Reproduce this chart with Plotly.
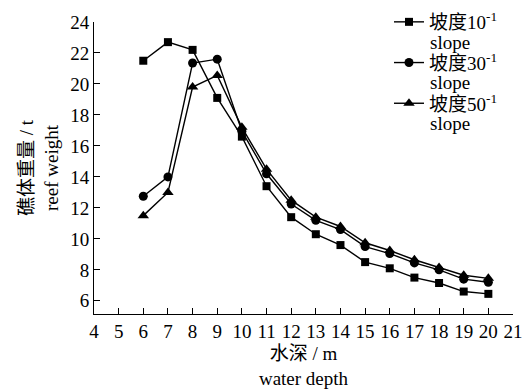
import plotly.graph_objects as go

depth = [6, 7, 8, 9, 10, 11, 12, 13, 14, 15, 16, 17, 18, 19, 20]
slope10 = [21.5, 22.7, 22.2, 19.1, 16.6, 13.4, 11.4, 10.3, 9.6, 8.5, 8.1, 7.5, 7.15, 6.6, 6.45]
slope30 = [12.75, 14.0, 21.35, 21.6, 16.95, 14.2, 12.25, 11.2, 10.6, 9.5, 9.05, 8.45, 8.0, 7.4, 7.2]
slope50 = [11.5, 13.0, 19.8, 20.55, 17.2, 14.5, 12.5, 11.4, 10.8, 9.75, 9.25, 8.65, 8.15, 7.65, 7.45]
names = ["坡度10<sup>-1</sup>", "坡度30<sup>-1</sup>", "坡度50<sup>-1</sup>"]
subnames = ["slope", "slope", "slope"]
symbols = ["square", "circle", "triangle-up"]
sizes = [8, 9, 10]
xticks = list(range(4, 22))
yticks = list(range(6, 25, 2))

FONT = "Liberation Serif, Times New Roman, Noto Sans CJK SC, serif"
FS = 19

fig = go.Figure()
for i, (ys, nm, sym, sz) in enumerate(zip([slope10, slope30, slope50], names, symbols, sizes)):
    fig.add_trace(go.Scatter(
        x=depth, y=ys, name=nm, mode="lines+markers", legendgroup=f"g{i}",
        line=dict(color="black", width=1.4),
        marker=dict(symbol=sym, size=sz, color="black"),
    ))

# second line of each legend entry
for i, s in enumerate(subnames):
    fig.add_annotation(
        xref="paper", yref="paper", x=(428 - 94) / 419, y=(314 - 43 - 40 * i) / 292,
        xanchor="left", yanchor="middle", text=s, showarrow=False,
        font=dict(family=FONT, size=FS, color="black"),
    )

fig.update_layout(
    width=530, height=389,
    margin=dict(l=94, r=17, t=22, b=75, autoexpand=False),
    paper_bgcolor="white", plot_bgcolor="white",
    font=dict(family=FONT, size=FS, color="black"),
    showlegend=True,
    legend=dict(x=(389 - 94) / 419, y=(314 - 3) / 292, xanchor="left", yanchor="top",
                bgcolor="rgba(0,0,0,0)", font=dict(size=FS),
                tracegroupgap=13, itemwidth=30),
)
fig.update_xaxes(
    range=[4, 21], tickvals=xticks, ticktext=[str(t) for t in xticks],
    showline=True, linecolor="black", linewidth=1, showgrid=False, zeroline=False,
    ticks="inside", ticklen=6, tickcolor="black", automargin=False,
    title=dict(text="水深 / m<br>water depth", standoff=6, font=dict(size=FS)),
    tickfont=dict(size=FS),
)
fig.update_yaxes(
    range=[5.15, 24], tickvals=yticks, ticktext=[str(t) for t in yticks],
    showline=True, linecolor="black", linewidth=1, showgrid=False, zeroline=False,
    ticks="inside", ticklen=6, tickcolor="black", automargin=False,
    title=dict(text="礁体重量 / t<br>reef weight", standoff=6, font=dict(size=FS)),
    tickfont=dict(size=FS),
)

fig.write_html("out.html")
